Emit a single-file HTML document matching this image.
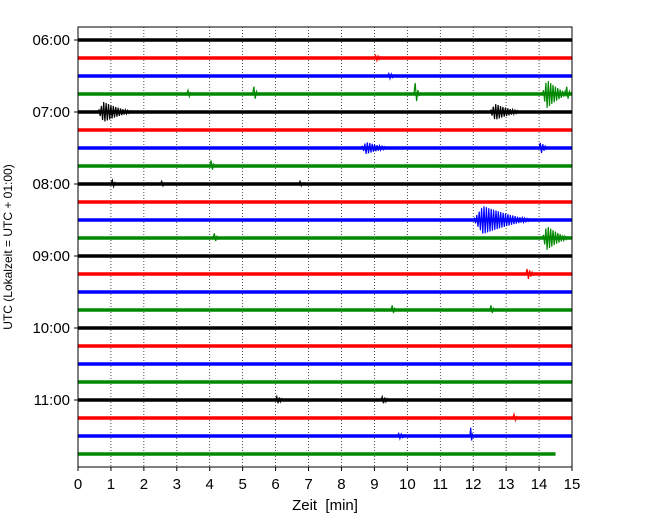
<!DOCTYPE html>
<html><head><meta charset="utf-8">
<style>
body{margin:0;background:#fff;}
svg text{font-family:"Liberation Sans","DejaVu Sans",sans-serif;}
</style></head>
<body>
<svg id="chart" width="650" height="520" xmlns="http://www.w3.org/2000/svg">
<rect x="0" y="0" width="650" height="520" fill="#fff"/>
<g id="grid"></g>
<g id="traces"></g>
<rect x="78" y="27" width="494" height="440" fill="none" stroke="#000" stroke-width="1"/>
<g id="axes"></g>
<text x="325" y="510" font-size="15" text-anchor="middle">Zeit&#160; [min]</text>
<text transform="translate(12,247) rotate(-90)" font-size="12" text-anchor="middle">UTC (Lokalzeit = UTC + 01:00)</text>
</svg>
<script>
const xTicks=[0,1,2,3,4,5,6,7,8,9,10,11,12,13,14,15];
const rowLabels=["06:00","","","","07:00","","","","08:00","","","","09:00","","","","10:00","","","","11:00","","",""];
const rowColors=["#000","#f00","#00f","#080"];
const rowEnd=[15,15,15,15,15,15,15,15,15,15,15,15,15,15,15,15,15,15,15,15,15,15,15,14.5];
// events: row, time(min), amplitude(px), duration(min)
const evRow=[3,3,3,3,3,4,4,6,6,7,8,8,8,10,11,11,13,15,15,20,20,21,22,22,1,2];
const evTime=[3.3,5.3,10.2,14.1,14.8,0.6,12.5,8.6,14,4,1,2.5,6.7,12.0,4.1,14.1,13.6,9.5,12.5,6,9.2,13.2,11.9,9.7,9,9.4];
const evAmp=[4,8,12,14,8,10,8,6,6,6,4,3,3,14,5,12,6,5,5,4,4,4,10,3,3,3];
const evDur=[0.2,0.2,0.2,0.9,0.2,1.2,1.1,1.0,0.3,0.2,0.2,0.2,0.2,2.0,0.2,0.9,0.3,0.2,0.2,0.3,0.3,0.2,0.1,0.3,0.3,0.3];

const X0=78,X1=572,Y0=40,DY=18;
const xs=t=>X0+(X1-X0)*t/15;
const ys=r=>Y0+r*DY;
const NS="http://www.w3.org/2000/svg";
function mk(tag,attrs,parent){const e=document.createElementNS(NS,tag);for(const k in attrs)e.setAttribute(k,attrs[k]);parent.appendChild(e);return e;}
const grid=document.getElementById('grid'),tr=document.getElementById('traces'),ax=document.getElementById('axes');
xTicks.forEach(t=>{
  if(t>0&&t<15){const l=mk('line',{x1:xs(t),x2:xs(t),y1:27,y2:467,stroke:'#000','stroke-width':0.7,'stroke-dasharray':'1,2'},grid);
  
  }
  const tk=mk('line',{x1:xs(t),x2:xs(t),y1:467,y2:471,stroke:'#000'},ax);
  
  
  const tx=mk('text',{x:xs(t),y:489,'font-size':15,'text-anchor':'middle'},ax);tx.textContent=t;
  
  
});
rowLabels.forEach((lab,r)=>{
  const c=rowColors[r%4];
  const l=mk('line',{x1:X0,x2:xs(rowEnd[r]),y1:ys(r),y2:ys(r),stroke:c,'stroke-width':3.5},tr);
  
  
  if(lab){
    const tk=mk('line',{x1:74,x2:78,y1:ys(r),y2:ys(r),stroke:'#000'},ax);
    
    
    const tx=mk('text',{x:70,y:ys(r)+5,'font-size':15,'text-anchor':'end'},ax);tx.textContent=lab;
    
    
  }
});
evRow.forEach((r,i)=>{
  const c=rowColors[r%4],y=ys(r);
  const x0=xs(evTime[i]),w=xs(evTime[i]+evDur[i])-x0;
  const n=Math.max(4,Math.round(w/1.2));
  let d='M'+x0+','+y;
  for(let k=1;k<=n;k++){
    const f=k/n;const a=evAmp[i]*(f<0.15?f/0.15:Math.pow(1-(f-0.15)/0.85,1.5));
    d+=' L'+(x0+w*f).toFixed(1)+','+(y+(k%2?-a:a)).toFixed(1);
  }
  const p=mk('path',{d:d,fill:'none',stroke:c,'stroke-width':1.2},tr);
  
  
});
</script>
</body></html>
